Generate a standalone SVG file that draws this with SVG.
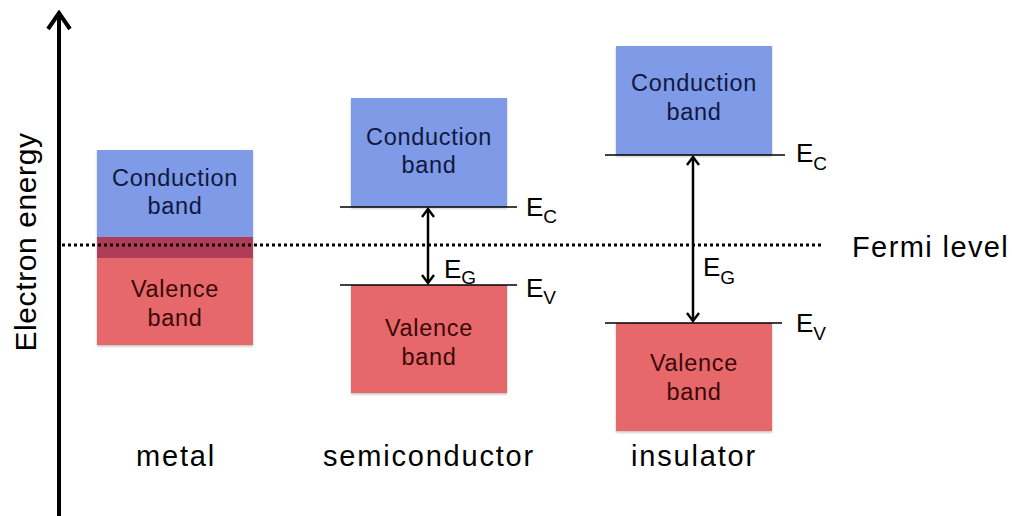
<svg xmlns="http://www.w3.org/2000/svg" width="1012" height="516" viewBox="0 0 1012 516">
<style>
text{font-family:"Liberation Sans",Arial,sans-serif}
.cb{fill:#7f9ae6}
.vb{fill:#e7686b}
.ov{fill:#b03c58}
.ct{font-size:23.5px;fill:#101840;text-anchor:middle;letter-spacing:0.7px}
.vt{font-size:23.5px;fill:#3a0808;text-anchor:middle;letter-spacing:0.7px}
.lvl{stroke:#000;stroke-width:1.6}
.lab{font-size:29px;fill:#000;text-anchor:middle;letter-spacing:1.8px}
.e{font-size:26px;fill:#000}
.sub{font-size:19px}
.gap{stroke:#000;stroke-width:2.5;fill:none}
</style>
<defs>
<marker id="chev" viewBox="0 0 12 14" refX="10" refY="7" markerWidth="12" markerHeight="14" markerUnits="userSpaceOnUse" orient="auto-start-reverse">
<path d="M2,1 L10,7 L2,13" fill="none" stroke="#000" stroke-width="2.4"/>
</marker>
<marker id="axh" viewBox="0 0 22 26" refX="20" refY="13" markerWidth="22" markerHeight="26" markerUnits="userSpaceOnUse" orient="auto">
<path d="M3,2 L19,13 L3,24" fill="none" stroke="#000" stroke-width="4"/>
</marker>
<filter id="sh" x="-5%" y="-5%" width="110%" height="115%">
<feDropShadow dx="0" dy="1.5" stdDeviation="1.2" flood-color="#000" flood-opacity="0.25"/>
</filter>
</defs>

<g id="metal">
<g filter="url(#sh)">
<rect class="cb" x="97" y="150" width="156" height="88"/>
<rect class="vb" x="97" y="258" width="156" height="87"/>
<rect class="ov" x="97" y="237" width="156" height="21"/>
</g>
<text class="ct" x="175" y="186">Conduction</text>
<text class="ct" x="175" y="214">band</text>
<text class="vt" x="175" y="297">Valence</text>
<text class="vt" x="175" y="326">band</text>
<text class="lab" x="176" y="466">metal</text>
</g>

<g id="semiconductor">
<g filter="url(#sh)">
<rect class="cb" x="351" y="98" width="156" height="109"/>
<rect class="vb" x="351" y="285" width="156" height="108"/>
</g>
<text class="ct" x="429" y="145">Conduction</text>
<text class="ct" x="429" y="173">band</text>
<text class="vt" x="429" y="336">Valence</text>
<text class="vt" x="429" y="365">band</text>
<line class="lvl" x1="340" y1="207" x2="517" y2="207"/>
<line class="lvl" x1="340" y1="285" x2="517" y2="285"/>
<text class="e" x="526" y="216">E<tspan class="sub" dy="7">C</tspan></text>
<text class="e" x="526" y="297">E<tspan class="sub" dy="7">V</tspan></text>
<text class="e" x="444" y="278">E<tspan class="sub" dy="6">G</tspan></text>
<text class="lab" x="429" y="466">semiconductor</text>
</g>

<g id="insulator">
<g filter="url(#sh)">
<rect class="cb" x="616" y="46" width="156" height="109"/>
<rect class="vb" x="616" y="323" width="156" height="108"/>
</g>
<text class="ct" x="694" y="91">Conduction</text>
<text class="ct" x="694" y="120">band</text>
<text class="vt" x="694" y="371">Valence</text>
<text class="vt" x="694" y="400">band</text>
<line class="lvl" x1="605" y1="155" x2="785" y2="155"/>
<line class="lvl" x1="605" y1="323" x2="782" y2="323"/>
<text class="e" x="796" y="162">E<tspan class="sub" dy="8">C</tspan></text>
<text class="e" x="796" y="332">E<tspan class="sub" dy="8">V</tspan></text>
<text class="e" x="703" y="276">E<tspan class="sub" dy="8">G</tspan></text>
<text class="lab" x="694" y="466">insulator</text>
</g>

<g id="fermi">
<line x1="62" y1="245" x2="822" y2="245" stroke="#000" stroke-width="3" stroke-dasharray="3,3"/>
<text x="852" y="257" style="font-size:29px;fill:#000;letter-spacing:1.4px">Fermi level</text>
</g>

<g id="axis">
<text x="0" y="0" transform="translate(36,242) rotate(-90)" style="font-size:30px;fill:#000;text-anchor:middle;letter-spacing:0.6px">Electron energy</text>
</g>

<g id="connectors">
<line x1="59" y1="516" x2="59" y2="12" stroke="#000" stroke-width="4" marker-end="url(#axh)"/>
<line class="gap" x1="428" y1="209" x2="428" y2="283" marker-start="url(#chev)" marker-end="url(#chev)"/>
<line class="gap" x1="693" y1="157" x2="693" y2="321" marker-start="url(#chev)" marker-end="url(#chev)"/>
</g>
</svg>
